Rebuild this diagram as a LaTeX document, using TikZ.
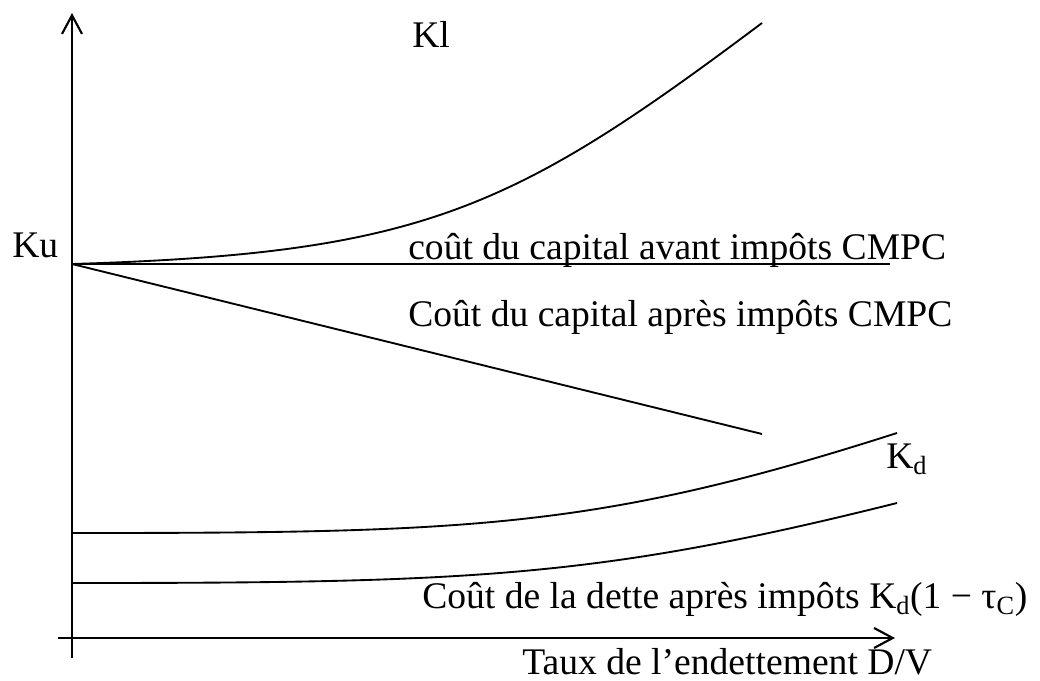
\documentclass[tikz,border=0pt]{standalone}
\usepackage{fontspec}
\setmainfont{Liberation Serif}
\usetikzlibrary{arrows.meta}
\begin{document}
\begin{tikzpicture}[x=0.75pt,y=-0.75pt,
  axis/.style={line width=1.6pt,-{Straight Barb[length=14pt,width=15pt,line width=1.6pt]}},
  curve/.style={line width=1.4pt,line join=round},
  lbl/.style={anchor=base west,inner sep=0pt,font=\fontsize{28.2}{33}\selectfont}]
\useasboundingbox (0,0) rectangle (1040,681);

% axes
\coordinate (ybot) at (72,658);
\coordinate (ytop) at (72,13);
\coordinate (xleft) at (58,638);
\coordinate (xright) at (895,638);
\draw[axis] (ybot) -- (ytop);
\draw[axis] (xleft) -- (xright);

% common starting point of the capital cost curves
\coordinate (ku) at (72,264);
\coordinate (klend) at (762,23);
\coordinate (avantend) at (890,264);
\coordinate (apresend) at (762,434);
\coordinate (kdstart) at (72,533);
\coordinate (kdend) at (897,433);
\coordinate (kdtstart) at (72,583);
\coordinate (kdtend) at (897,503);

% cost of equity (levered)
\draw[curve] (ku) .. controls (422,253.5) and (512,210.5) .. (klend);
% WACC before taxes
\draw[curve] (ku) -- (avantend);
% WACC after taxes
\draw[curve] (ku) -- (apresend);
% cost of debt
\draw[curve] (kdstart) .. controls (472,533) and (597,529) .. (kdend);
% after-tax cost of debt
\draw[curve] (kdtstart) .. controls (472,583) and (597,578) .. (kdtend);

% labels
\node[lbl] (kl) at (412,48) {Kl};
\node[lbl] (kulbl) at (12,258) {Ku};
\node[lbl] (avant) at (408,260) {coût du capital avant impôts CMPC};
\node[lbl] (apres) at (408,326) {Coût du capital après impôts CMPC};
\node[lbl] (kd) at (886,468) {K\textsubscript{d}};
\node[lbl] (dette) at (422,608) {Coût de la dette après impôts K\textsubscript{d}(1 − τ\textsubscript{C})};
\node[lbl] (taux) at (522,674) {Taux de l’endettement D/V};
\end{tikzpicture}
\end{document}
